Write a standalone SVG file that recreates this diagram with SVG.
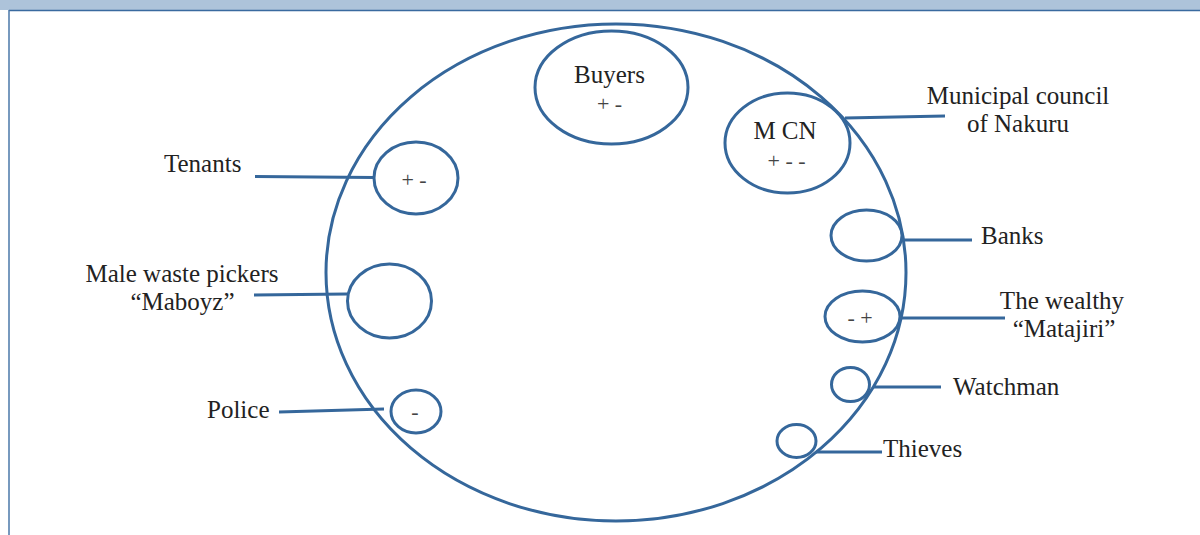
<svg xmlns="http://www.w3.org/2000/svg" width="1200" height="535" viewBox="0 0 1200 535">
<style>
.sh{fill:none;stroke:#35679b;stroke-width:3}
.ln{stroke:#35679b;stroke-width:3;fill:none}
.t{font-family:"Liberation Serif","Times New Roman",serif;font-size:25px;fill:#222}
.m{text-anchor:middle}
.s{font-family:"Liberation Serif","Times New Roman",serif;font-size:22px;fill:#444;text-anchor:middle}
</style>
<rect x="0" y="0" width="1200" height="10" fill="#adc3da"/>
<line x1="9" y1="10.5" x2="1200" y2="10.5" stroke="#3a6a9f" stroke-width="1.5"/>
<line x1="9" y1="10" x2="9" y2="535" stroke="#4a77a8" stroke-width="1.5"/>
<g id="community"><ellipse class="sh" cx="616" cy="272.5" rx="290" ry="248.5"/></g>
<g id="connectors">
<line class="ln" x1="255" y1="176.5" x2="374" y2="177.5"/>
<line class="ln" x1="254" y1="295" x2="347" y2="294"/>
<line class="ln" x1="279" y1="412" x2="384" y2="409"/>
<line class="ln" x1="845" y1="118" x2="945" y2="116"/>
<line class="ln" x1="904" y1="240" x2="972" y2="240"/>
<line class="ln" x1="899" y1="318" x2="1005" y2="318"/>
<line class="ln" x1="873" y1="387" x2="941" y2="387"/>
<line class="ln" x1="816" y1="452" x2="882" y2="452"/>
</g>
<g id="buyers"><ellipse class="sh" cx="611.5" cy="87.5" rx="76.5" ry="56.5"/>
<text class="t m" x="609.5" y="83">Buyers</text><text class="s" x="609.5" y="111">+ -</text></g>
<g id="mcn"><ellipse class="sh" cx="787.5" cy="143" rx="62.5" ry="50"/>
<text class="t m" x="785" y="139">M CN</text><text class="s" x="786.5" y="168">+ - -</text></g>
<g id="municipal-label"><text class="t m" x="1018" y="104">Municipal council</text><text class="t m" x="1018" y="132">of Nakuru</text></g>
<g id="tenants"><ellipse class="sh" cx="416" cy="178" rx="42" ry="36"/><text class="s" x="414" y="187">+ -</text>
<text class="t" x="164" y="172">Tenants</text></g>
<g id="maboyz"><ellipse class="sh" cx="389.5" cy="301" rx="42" ry="37"/>
<text class="t m" x="182" y="282">Male waste pickers</text><text class="t m" x="182.5" y="310">“Maboyz”</text></g>
<g id="police"><ellipse class="sh" cx="416" cy="411.5" rx="25" ry="21.5"/><text class="s" x="415" y="419">-</text>
<text class="t" x="207" y="418">Police</text></g>
<g id="banks"><ellipse class="sh" cx="866.5" cy="235.5" rx="35.5" ry="25.5"/>
<text class="t" x="981" y="244">Banks</text></g>
<g id="wealthy"><ellipse class="sh" cx="862.5" cy="316.5" rx="37.5" ry="25.5"/><text class="s" x="860" y="325">- +</text>
<text class="t m" x="1062" y="309">The wealthy</text><text class="t m" x="1064" y="337">“Matajiri”</text></g>
<g id="watchman"><ellipse class="sh" cx="850.5" cy="384.5" rx="19" ry="17"/>
<text class="t" x="953" y="395">Watchman</text></g>
<g id="thieves"><ellipse class="sh" cx="796.5" cy="441" rx="19.5" ry="16.5"/>
<text class="t" x="883" y="457">Thieves</text></g>
</svg>
